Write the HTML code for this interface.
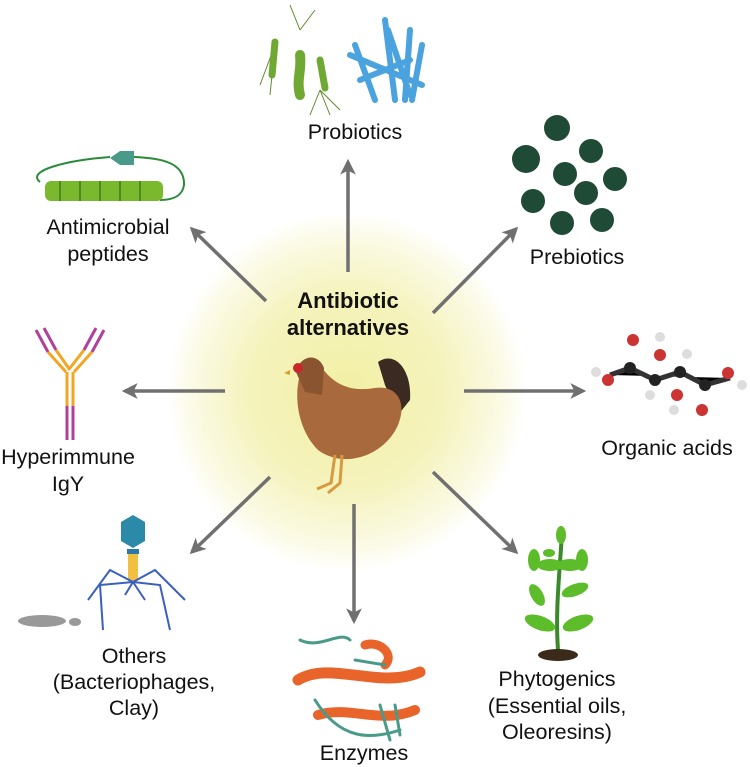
<!DOCTYPE html>
<html><head><meta charset="utf-8"><style>
body{margin:0;background:#fff;}
svg{display:block}
text{font-family:"Liberation Sans",sans-serif;font-size:21.5px;fill:#111;text-anchor:middle}
</style></head><body>
<svg width="750" height="767" viewBox="0 0 750 767">
<defs>
<radialGradient id="g" cx="347" cy="392" r="180" gradientUnits="userSpaceOnUse">
<stop offset="0" stop-color="#f2f0a4"/><stop offset="0.55" stop-color="#f5f3bd"/><stop offset="0.85" stop-color="#fbfae4"/><stop offset="1" stop-color="#fff"/>
</radialGradient>
<marker id="a" viewBox="0 0 10 10" refX="8" refY="5" markerWidth="4.5" markerHeight="4.5" orient="auto"><path d="M0,0 L10,5 L0,10 L2.5,5 z" fill="#707070"/></marker>
</defs>
<circle cx="347" cy="392" r="180" fill="url(#g)"/>
<g stroke="#707070" stroke-width="3.5" marker-end="url(#a)">
<line x1="348" y1="272" x2="348" y2="162"/>
<line x1="266" y1="301" x2="192" y2="229"/>
<line x1="433" y1="313" x2="516" y2="229"/>
<line x1="225" y1="391" x2="125" y2="391"/>
<line x1="464" y1="391" x2="583" y2="391"/>
<line x1="270" y1="477" x2="192" y2="552"/>
<line x1="354" y1="504" x2="354" y2="621"/>
<line x1="433" y1="472" x2="516" y2="552"/>
</g>
<text x="348" y="308" style="font-weight:bold;font-size:22px">Antibiotic</text>
<text x="348" y="335" style="font-weight:bold;font-size:22px">alternatives</text>
<!-- chicken -->
<g>
<path d="M378,362 C395,350 412,370 410,400 L398,415 L385,385 Z" fill="#3a2a22"/>
<path d="M302,368 C292,395 298,430 318,450 C345,470 385,455 398,425 C408,400 395,385 375,388 C350,392 335,385 322,368 Z" fill="#a8693c"/>
<path d="M296,372 C300,355 318,352 324,368 L322,395 L305,392 Z" fill="#8a5430"/>
<circle cx="298" cy="368" r="5" fill="#c8282a"/>
<path d="M290,370 l-6,3 l6,2z" fill="#d8a030"/>
<path d="M335,455 l-4,28 l-14,6 M342,455 l-2,28 l-12,10" stroke="#d89a40" stroke-width="3" fill="none"/>
</g>
<!-- probiotics -->
<g stroke="#5f8a2a" stroke-width="1" fill="none">
<path d="M275,45 l-15,40 M275,45 l-5,50 M300,30 l-10,-25 M300,30 l15,-20 M320,90 l-10,25 M320,90 l10,25 M320,90 l20,20"/>
</g>
<g stroke="#6fa832" stroke-linecap="round" fill="none">
<path d="M275,42 L272,75" stroke-width="7"/><path d="M300,55 C302,70 296,80 300,95" stroke-width="10"/><path d="M320,60 L325,88" stroke-width="7"/>
</g>
<g stroke="#4aa3df" stroke-width="6" stroke-linecap="round">
<line x1="355" y1="45" x2="375" y2="100"/><line x1="385" y1="20" x2="395" y2="100"/><line x1="388" y1="30" x2="410" y2="95"/><line x1="350" y1="55" x2="422" y2="85"/><line x1="360" y1="80" x2="410" y2="60"/><line x1="410" y1="30" x2="405" y2="100"/><line x1="422" y1="45" x2="412" y2="100"/>
</g>
<text x="355" y="139">Probiotics</text>
<!-- AMP -->
<path d="M110,157 C70,160 25,170 40,182 M134,157 C160,158 185,162 184,185 C182,198 170,200 160,200" stroke="#2a8a3a" stroke-width="2" fill="none"/>
<g fill="#7ab82e"><rect x="45" y="181" width="118" height="20" rx="6"/></g>
<g stroke="#4a8a1e" stroke-width="2"><line x1="60" y1="181" x2="60" y2="201"/><line x1="80" y1="181" x2="80" y2="201"/><line x1="100" y1="181" x2="100" y2="201"/><line x1="120" y1="181" x2="120" y2="201"/><line x1="140" y1="181" x2="140" y2="201"/></g>
<path d="M134,151 l-14,0 l-10,7 l10,7 l14,0z" fill="#4a9a8a"/>
<text x="108" y="234">Antimicrobial</text><text x="108" y="261">peptides</text>
<!-- prebiotics -->
<g fill="#1f4a35">
<circle cx="557" cy="128" r="13"/><circle cx="526" cy="159" r="14"/><circle cx="591" cy="151" r="12"/><circle cx="565" cy="174" r="12"/><circle cx="615" cy="179" r="12"/><circle cx="533" cy="201" r="12"/><circle cx="586" cy="193" r="12"/><circle cx="562" cy="223" r="12"/><circle cx="602" cy="220" r="12"/>
</g>
<text x="577" y="264">Prebiotics</text>
<!-- IgY -->
<g stroke-width="3" fill="none">
<path d="M36,330 L48,352 M44,328 L56,350 M104,330 L92,352 M96,328 L84,350" stroke="#b0409a"/>
<path d="M48,352 L66,372 M56,350 L70,370 M92,352 L74,372 M84,350 L70,368 M67,372 L67,406 M73,372 L73,406" stroke="#f2a624"/>
<path d="M67,406 L67,440 M73,406 L73,440" stroke="#b0409a"/>
</g>
<text x="68" y="464">Hyperimmune</text><text x="68" y="491">IgY</text>
<!-- organic acids -->
<g stroke="#333" stroke-width="5"><path d="M610,375 L630,368 L655,380 L680,372 L705,385 L730,378"/></g>
<g><circle cx="633" cy="340" r="6" fill="#c33"/><circle cx="630" cy="368" r="6" fill="#222"/><circle cx="608" cy="380" r="6" fill="#c33"/><circle cx="596" cy="372" r="5" fill="#ddd"/><circle cx="655" cy="380" r="6" fill="#222"/><circle cx="660" cy="355" r="6" fill="#c33"/><circle cx="660" cy="337" r="5" fill="#ddd"/><circle cx="680" cy="372" r="6" fill="#222"/><circle cx="687" cy="354" r="5" fill="#ddd"/><circle cx="677" cy="395" r="6" fill="#c33"/><circle cx="674" cy="410" r="5" fill="#ddd"/><circle cx="705" cy="385" r="6" fill="#222"/><circle cx="702" cy="410" r="6" fill="#c33"/><circle cx="728" cy="373" r="6" fill="#c33"/><circle cx="742" cy="385" r="5" fill="#ddd"/><circle cx="650" cy="395" r="5" fill="#ddd"/></g>
<text x="667" y="455">Organic acids</text>
<!-- phage -->
<polygon points="133,515 145,522 145,541 133,548 121,541 121,522" fill="#2a8aa8"/>
<rect x="127" y="549" width="12" height="5" fill="#2a7aa8"/>
<rect x="128" y="554" width="10" height="27" fill="#f2c040"/>
<g stroke="#3a5fbf" stroke-width="2" fill="none"><path d="M133,582 L110,570 L88,600 M133,582 L100,585 L103,630 M133,582 L155,570 L185,600 M133,582 L160,585 L170,630 M133,582 L125,595 M133,582 L145,600"/></g>
<ellipse cx="42" cy="621" rx="24" ry="6" fill="#999"/><ellipse cx="75" cy="622" rx="6" ry="4" fill="#999"/>
<text x="134" y="663">Others</text><text x="134" y="689">(Bacteriophages,</text><text x="134" y="715">Clay)</text>
<!-- enzymes -->
<g stroke-linecap="round" fill="none">
<path d="M298,680 C330,660 380,690 420,672" stroke="#e8642a" stroke-width="11"/>
<path d="M318,715 C350,705 380,725 415,710" stroke="#e8642a" stroke-width="10"/>
<path d="M365,645 C380,640 395,655 385,665" stroke="#e8642a" stroke-width="9"/>
<path d="M300,640 C320,650 340,630 350,640 M355,660 L385,665 M315,700 C340,740 370,740 400,730 M380,705 L390,740 M395,705 L400,735" stroke="#4a9a8a" stroke-width="3"/>
</g>
<text x="364" y="760">Enzymes</text>
<!-- plant -->
<path d="M558,650 C555,610 560,570 562,532" stroke="#3a8a2a" stroke-width="4" fill="none"/>
<g fill="#5cbc2a"><ellipse cx="540" cy="623" rx="16" ry="7" transform="rotate(20 540 623)"/><ellipse cx="578" cy="623" rx="16" ry="7" transform="rotate(-20 578 623)"/><ellipse cx="537" cy="595" rx="12" ry="6" transform="rotate(60 537 595)"/><ellipse cx="575" cy="590" rx="14" ry="6" transform="rotate(-20 575 590)"/><ellipse cx="550" cy="565" rx="13" ry="6"/><ellipse cx="570" cy="565" rx="13" ry="6"/><ellipse cx="534" cy="560" rx="6" ry="11"/><ellipse cx="582" cy="560" rx="6" ry="11"/><ellipse cx="561" cy="535" rx="5" ry="9"/><ellipse cx="549" cy="553" rx="6" ry="4"/></g>
<ellipse cx="558" cy="655" rx="20" ry="6" fill="#3a2a1a"/>
<text x="557" y="686">Phytogenics</text><text x="557" y="713">(Essential oils,</text><text x="557" y="739">Oleoresins)</text>
</svg>
</body></html>
